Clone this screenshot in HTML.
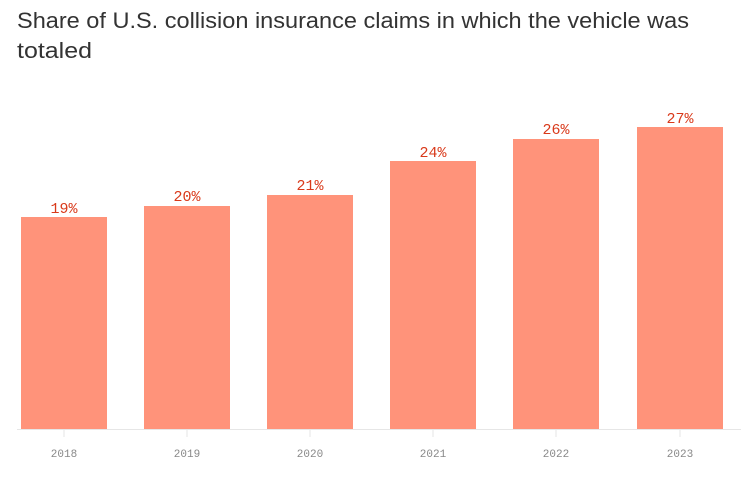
<!DOCTYPE html>
<html><head><style>
body{margin:0;background:#fff;width:741px;height:472px;overflow:hidden}
</style></head><body>
<svg width="741" height="472" xmlns="http://www.w3.org/2000/svg">
<text x="17" y="28" font-family="Liberation Sans, sans-serif" font-size="22.5" fill="#333" textLength="672" lengthAdjust="spacingAndGlyphs">Share of U.S. collision insurance claims in which the vehicle was</text>
<text x="17" y="58" font-family="Liberation Sans, sans-serif" font-size="22.5" fill="#333" textLength="75" lengthAdjust="spacingAndGlyphs">totaled</text>
<g fill="#ff937a">
<rect x="21" y="217" width="86" height="212"/>
<rect x="144" y="206" width="86" height="223"/>
<rect x="267" y="195" width="86" height="234"/>
<rect x="390" y="161" width="86" height="268"/>
<rect x="513" y="139" width="86" height="290"/>
<rect x="637" y="127" width="86" height="302"/>
</g>
<line x1="17" y1="429.5" x2="741" y2="429.5" stroke="#e6e6e6"/>
<g stroke="#e6e6e6">
<line x1="64" y1="430" x2="64" y2="437"/><line x1="187" y1="430" x2="187" y2="437"/><line x1="310" y1="430" x2="310" y2="437"/><line x1="433" y1="430" x2="433" y2="437"/><line x1="556" y1="430" x2="556" y2="437"/><line x1="680" y1="430" x2="680" y2="437"/>
</g>
<g font-family="Liberation Mono, monospace" font-size="11" fill="#888" text-anchor="middle">
<text x="64" y="457">2018</text><text x="187" y="457">2019</text><text x="310" y="457">2020</text><text x="433" y="457">2021</text><text x="556" y="457">2022</text><text x="680" y="457">2023</text>
</g>
<g font-family="Liberation Mono, monospace" font-size="15" fill="#d9391a" text-anchor="middle">
<text x="64" y="213">19%</text><text x="187" y="201">20%</text><text x="310" y="190">21%</text><text x="433" y="157">24%</text><text x="556" y="134">26%</text><text x="680" y="123">27%</text>
</g>
</svg>
</body></html>
